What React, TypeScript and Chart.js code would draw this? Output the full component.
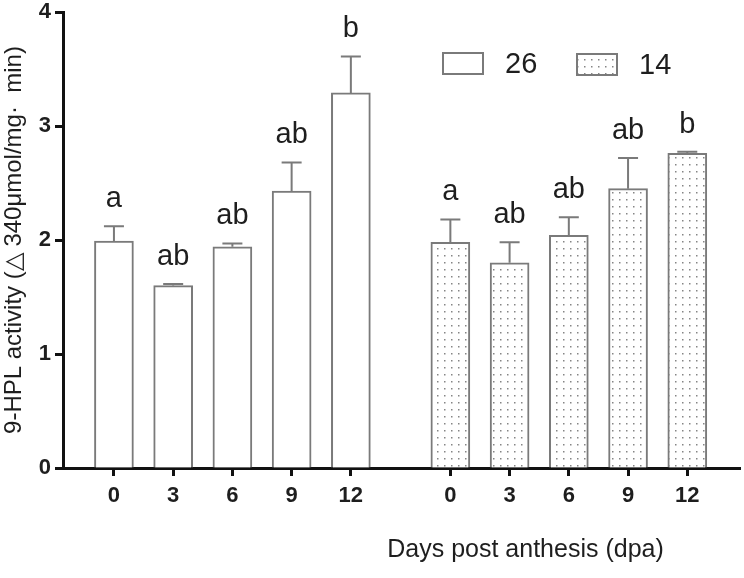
import React, { useEffect, useRef } from "react";
import { Chart, registerables } from "chart.js";

Chart.register(...registerables);

const categories = ["0", "3", "6", "9", "12"];
const seriesLabels = ["26", "14"];
const values26 = [1.99, 1.6, 1.94, 2.43, 3.29];
const errors26 = [0.13, 0.015, 0.03, 0.25, 0.32];
const values14 = [1.98, 1.8, 2.04, 2.45, 2.76];
const errors14 = [0.2, 0.18, 0.16, 0.27, 0.015];
const letters26 = ["a", "ab", "ab", "ab", "b"];
const letters14 = ["a", "ab", "ab", "ab", "b"];
const yTicks = [0, 1, 2, 3, 4];
const yTitle = "9-HPL activity (\u25B3 340\u03BCmol/mg\u00B7  min)";
const xTitle = "Days post anthesis (dpa)";

const FONT = "'Liberation Sans', Arial, Helvetica, sans-serif";
const GROUP_OFFSET = 5.68;
const BAR_BORDER = "#7a7a7a";
const TEXT = "#1e1e1e";

function makeDotPattern(): CanvasPattern | string {
  const c = document.createElement("canvas");
  c.width = 7;
  c.height = 7;
  const g = c.getContext("2d");
  if (!g) return "#fff";
  g.fillStyle = "#ffffff";
  g.fillRect(0, 0, 7, 7);
  g.fillStyle = "#858585";
  g.fillRect(3, 3, 1.5, 1.5);
  const p = g.createPattern(c, "repeat");
  return p || "#fff";
}

export default function App() {
  const ref = useRef<HTMLCanvasElement | null>(null);

  useEffect(() => {
    if (!ref.current) return;
    const dots = makeDotPattern();
    const pos26 = categories.map((_, i) => i);
    const pos14 = categories.map((_, i) => i + GROUP_OFFSET);
    const tickPositions = [...pos26, ...pos14];
    const tickLabels = [...categories, ...categories];
    const errs = [errors26, errors14];
    const letters = [letters26, letters14];

    const overlay = {
      id: "overlay",
      afterDatasetsDraw(chart: any) {
        const ctx = chart.ctx;
        const ys = chart.scales.y;
        const area = chart.chartArea;
        ctx.save();
        chart.data.datasets.forEach((ds: any, di: number) => {
          const meta = chart.getDatasetMeta(di);
          meta.data.forEach((el: any, i: number) => {
            const v = ds.data[i].y;
            const top = ys.getPixelForValue(v);
            const cap = ys.getPixelForValue(v + errs[di][i]);
            ctx.strokeStyle = BAR_BORDER;
            ctx.lineWidth = 2;
            ctx.beginPath();
            ctx.moveTo(el.x, top);
            ctx.lineTo(el.x, cap);
            ctx.moveTo(el.x - 10, cap);
            ctx.lineTo(el.x + 10, cap);
            ctx.stroke();
            ctx.fillStyle = TEXT;
            ctx.font = `29px ${FONT}`;
            ctx.textAlign = "center";
            ctx.textBaseline = "alphabetic";
            ctx.fillText(letters[di][i], el.x, cap - 19);
          });
        });
        // legend
        const lx = area.right - 297;
        const ly = area.top + 41;
        const items = chart.data.datasets;
        items.forEach((ds: any, k: number) => {
          const bx = lx + k * 134;
          const by = ly + k * 1;
          ctx.fillStyle = ds.backgroundColor;
          ctx.fillRect(bx, by, 40, 21);
          ctx.strokeStyle = BAR_BORDER;
          ctx.lineWidth = 2;
          ctx.strokeRect(bx, by, 40, 21);
          ctx.fillStyle = TEXT;
          ctx.font = `29px ${FONT}`;
          ctx.textAlign = "left";
          ctx.textBaseline = "middle";
          ctx.fillText(ds.label, bx + 62, by + 12);
        });
        // x title
        ctx.fillStyle = TEXT;
        ctx.font = `25px ${FONT}`;
        ctx.textAlign = "center";
        ctx.textBaseline = "alphabetic";
        ctx.fillText(xTitle, (area.left + area.right) / 2 + 124, area.bottom + 89);
        ctx.restore();
      },
    };

    const chart = new Chart(ref.current, {
      type: "bar",
      data: {
        datasets: [
          {
            label: seriesLabels[0],
            data: values26.map((v, i) => ({ x: pos26[i], y: v })),
            backgroundColor: "#ffffff",
            borderColor: BAR_BORDER,
            borderWidth: 2,
            barThickness: 39,
            grouped: false,
          } as any,
          {
            label: seriesLabels[1],
            data: values14.map((v, i) => ({ x: pos14[i], y: v })),
            backgroundColor: dots,
            borderColor: BAR_BORDER,
            borderWidth: 2,
            barThickness: 39,
            grouped: false,
          } as any,
        ],
      },
      plugins: [overlay],
      options: {
        responsive: false,
        animation: false,
        devicePixelRatio: 1,
        layout: { padding: { top: 12, right: 4, left: 0, bottom: 0 } },
        plugins: {
          legend: { display: false },
          tooltip: { enabled: false },
        },
        scales: {
          x: {
            type: "linear",
            offset: false,
            min: -0.86,
            max: 10.57,
            afterBuildTicks: (scale: any) => {
              scale.ticks = tickPositions.map((v) => ({ value: v }));
            },
            afterFit: (scale: any) => {
              scale.height = 110;
              scale.paddingLeft = 0;
              scale.paddingRight = 0;
            },
            ticks: {
              autoSkip: false,
              maxRotation: 0,
              padding: 7,
              color: TEXT,
              font: { family: FONT, size: 22, weight: "bold" },
              callback: (_v: any, i: number) => tickLabels[i],
            },
            grid: {
              display: true,
              offset: false,
              drawOnChartArea: false,
              drawTicks: true,
              tickLength: 8,
              tickWidth: 3,
              tickColor: "#111",
            },
            border: { display: true, color: "#111", width: 3 },
          },
          y: {
            min: 0,
            max: 4,
            afterBuildTicks: (scale: any) => {
              scale.ticks = yTicks.map((v) => ({ value: v }));
            },
            afterFit: (scale: any) => {
              scale.width = 63;
              scale.paddingTop = 0;
              scale.paddingBottom = 0;
            },
            ticks: {
              padding: 4,
              color: TEXT,
              font: { family: FONT, size: 22, weight: "bold" },
              callback: (v: any) => String(v),
            },
            grid: {
              display: true,
              drawOnChartArea: false,
              drawTicks: true,
              tickLength: 8,
              tickWidth: 3,
              tickColor: "#111",
            },
            border: { display: true, color: "#111", width: 3 },
            title: {
              display: true,
              text: yTitle,
              color: TEXT,
              font: { family: FONT, size: 24 },
              padding: { top: 0, bottom: 0 },
            },
          },
        },
      } as any,
    });
    return () => chart.destroy();
  }, []);

  return (
    <div style={{ position: "absolute", left: 0, top: 0, width: 744, height: 578, background: "#fff" }}>
      <canvas ref={ref} width={744} height={578} />
    </div>
  );
}
